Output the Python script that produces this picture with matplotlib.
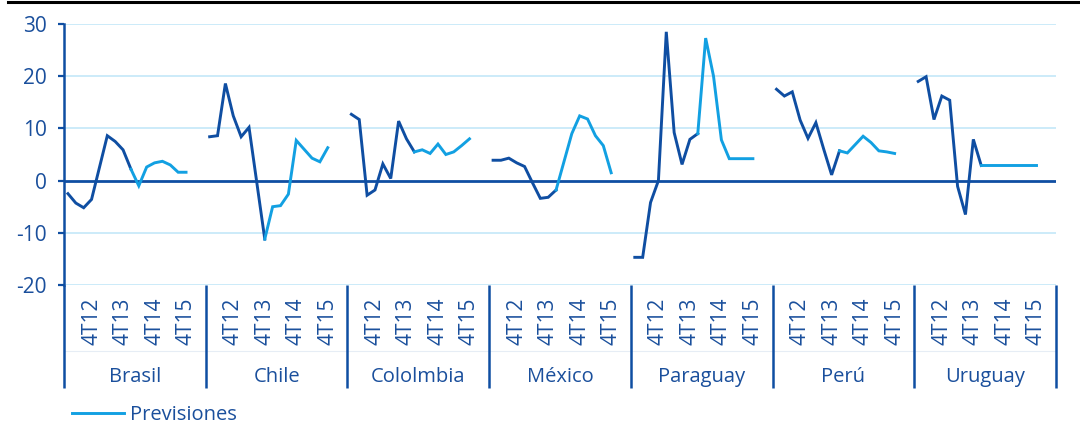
import matplotlib
matplotlib.use("Agg")
import matplotlib.pyplot as plt
from matplotlib.lines import Line2D

plt.rcParams["font.family"] = ["Open Sans", "DejaVu Sans"]
plt.rcParams["axes.unicode_minus"] = False

DARK = "#0F4EA2"
LIGHT = "#12A0E2"
GRID = "#BFE6F8"
TEXT = "#1A4F9C"

countries = ["Brasil", "Chile", "Cololmbia", "México", "Paraguay", "Perú", "Uruguay"]
quarter_labels = ["4T12", "4T13", "4T14", "4T15"]
label_slots = [3, 7, 11, 15]

brasil = [-2.5, -4.3, -5.2, -3.6, 2.5, 8.6, 7.5, 5.9, 2.2, -1.0, 2.6, 3.4, 3.7, 3.0, 1.6, 1.6]
chile = [8.4, 8.6, 18.6, 12.4, 8.4, 10.2, -0.5, -11.2, -5.0, -4.8, -2.6, 7.7, 6.0, 4.3, 3.6, 6.3]
colombia = [12.7, 11.7, -2.8, -1.8, 3.2, 0.4, 11.4, 8.0, 5.5, 5.9, 5.2, 7.0, 5.0, 5.5, 6.7, 8.0]
mexico = [3.9, 3.9, 4.3, 3.4, 2.7, -0.4, -3.4, -3.2, -1.8, 3.6, 9.0, 12.4, 11.8, 8.6, 6.7, 1.5]
paraguay = [-14.7, -14.7, -4.2, 0.0, 28.5, 9.2, 3.1, 7.9, 9.0, 27.3, 20.0, 7.8, 4.2, 4.2, 4.2, 4.2]
peru = [17.5, 16.2, 17.0, 11.6, 8.1, 11.1, 6.0, 1.1, 5.7, 5.3, 6.9, 8.5, 7.3, 5.7, 5.5, 5.2]
uruguay = [19.0, 19.9, 11.7, 16.2, 15.4, -1.1, -6.5, 7.9, 2.9, 2.9, 2.9, 2.9, 2.9, 2.9, 2.9, 2.9]
series = [brasil, chile, colombia, mexico, paraguay, peru, uruguay]
# index of the last observed quarter (forecast line starts there)
last_obs = [8, 7, 8, 8, 8, 8, 8]

SLOTS = 18  # 16 quarters + 2 empty categories per country

fig = plt.figure(figsize=(10.8, 4.26), dpi=100)
ax = fig.add_axes([64 / 1080, 141 / 426, 992 / 1080, 261 / 426])

for g, (vals, k) in enumerate(zip(series, last_obs)):
    xs = [g * SLOTS + i for i in range(len(vals))]
    ax.plot(xs[: k + 1], vals[: k + 1], color=DARK, lw=2.1, solid_joinstyle="miter", zorder=3)
    ax.plot(xs[k:], vals[k:], color=LIGHT, lw=2.1, solid_joinstyle="miter", zorder=3)

ax.set_xlim(-0.5, len(countries) * SLOTS - 0.5)
ax.set_ylim(-20, 30)
ax.set_yticks(range(-20, 31, 10))
for y in range(-20, 31, 10):
    if y != 0:
        ax.axhline(y, color=GRID, lw=1.1, zorder=1)
ax.axhline(0, color=DARK, lw=2.0, zorder=2)

for s in ["top", "right", "bottom"]:
    ax.spines[s].set_visible(False)
ax.spines["left"].set_color(DARK)
ax.spines["left"].set_linewidth(1.8)
ax.tick_params(axis="y", colors=DARK, length=4.5, width=1.6, pad=8, labelsize=15, labelcolor=TEXT)

ticks = []
tick_text = []
for g in range(len(countries)):
    for s, lab in zip(label_slots, quarter_labels):
        ticks.append(g * SLOTS + s)
        tick_text.append(lab)
ax.set_xticks(ticks)
ax.set_xticklabels(tick_text, rotation=90, fontsize=15, color=TEXT)
ax.tick_params(axis="x", length=0, pad=9)

trans = ax.get_xaxis_transform()
for g in range(len(countries) + 1):
    ax.plot([g * SLOTS - 0.5] * 2, [0, -0.395], transform=trans, color=DARK,
            lw=1.8, clip_on=False, solid_capstyle="butt")
ax.plot([-0.5, len(countries) * SLOTS - 0.5], [-0.253, -0.253], transform=trans,
        color="#E6EDF5", lw=0.8, clip_on=False, zorder=0)
for g, name in enumerate(countries):
    ax.text(g * SLOTS + (SLOTS - 1) / 2, -0.352, name, transform=trans, ha="center",
            va="center", fontsize=14.5, color=TEXT)

handle = Line2D([], [], color=LIGHT, lw=2.1)
fig.legend([handle], ["Previsiones"], loc="center left", bbox_to_anchor=(72 / 1080, 1 - 415 / 426),
           frameon=False, fontsize=14.5, handlelength=2.6, handletextpad=0.3, labelcolor=TEXT,
           borderaxespad=0, borderpad=0)

fig.add_artist(Line2D([8 / 1080, 1], [1 - 1.5 / 426] * 2, color="black", lw=2.2))

fig.savefig("out.png", dpi=100)
